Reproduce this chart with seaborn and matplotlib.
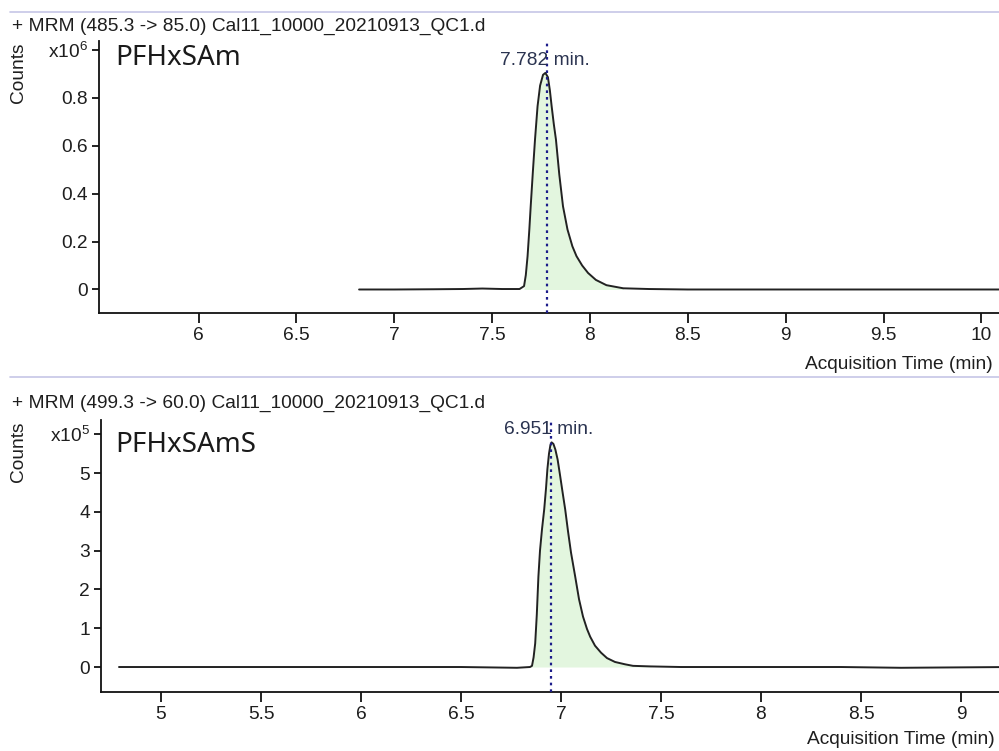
import numpy as np
import seaborn as sns
import matplotlib.pyplot as plt
from matplotlib.lines import Line2D

# ---- data ----
# top: PFHxSAm, counts in units of 1e6
top_time = [6.82, 7.00, 7.20, 7.35, 7.45, 7.55, 7.64, 7.663, 7.672, 7.681, 7.69,
            7.697, 7.708, 7.719, 7.732, 7.745, 7.76, 7.772, 7.785, 7.795, 7.804,
            7.815, 7.826, 7.843, 7.862, 7.885, 7.91, 7.931, 7.96, 7.99, 8.03,
            8.084, 8.17, 8.30, 8.50, 9.00, 10.10]
top_counts = [0.0, 0.0, 0.001, 0.002, 0.004, 0.002, 0.002, 0.014, 0.06, 0.139, 0.25,
              0.347, 0.49, 0.625, 0.764, 0.85, 0.895, 0.903, 0.885, 0.83, 0.764,
              0.69, 0.625, 0.48, 0.347, 0.25, 0.18, 0.139, 0.10, 0.069, 0.04,
              0.018, 0.005, 0.002, 0.0, 0.0, 0.0]
top_rt = 7.782
top_range = (7.663, 8.17)

# bottom: PFHxSAmS, counts in units of 1e5
bot_time = [4.79, 5.50, 6.00, 6.50, 6.78, 6.845, 6.855, 6.863, 6.871, 6.879, 6.887,
            6.895, 6.905, 6.916, 6.925, 6.932, 6.94, 6.947, 6.953, 6.962, 6.972,
            6.983, 6.995, 7.008, 7.021, 7.035, 7.05, 7.071, 7.09, 7.11, 7.13,
            7.146, 7.17, 7.20, 7.23, 7.27, 7.32, 7.36, 7.45, 7.60, 8.00, 8.40,
            8.70, 9.25]
bot_counts = [0.0, 0.0, 0.0, 0.0, -0.02, 0.0, 0.03, 0.25, 0.61, 1.35, 2.33,
              3.0, 3.55, 4.06, 4.6, 5.1, 5.5, 5.72, 5.79, 5.75, 5.6,
              5.35, 4.95, 4.5, 4.06, 3.5, 2.95, 2.33, 1.75, 1.3, 0.98,
              0.78, 0.55, 0.37, 0.23, 0.13, 0.07, 0.03, 0.015, 0.0, 0.0, 0.0,
              -0.02, 0.0]
bot_rt = 6.951
bot_range = (6.845, 7.45)

titles = ['+ MRM (485.3 -> 85.0) Cal11_10000_20210913_QC1.d',
          '+ MRM (499.3 -> 60.0) Cal11_10000_20210913_QC1.d']
compounds = ['PFHxSAm', 'PFHxSAmS']
top_yticks = [0, 0.2, 0.4, 0.6, 0.8, 1.0]
top_ylabels = ['0', '0.2', '0.4', '0.6', '0.8', 'x10$^{6}$']
bot_yticks = [0, 1, 2, 3, 4, 5, 6]
bot_ylabels = ['0', '1', '2', '3', '4', '5', 'x10$^{5}$']
top_xticks = [6, 6.5, 7, 7.5, 8, 8.5, 9, 9.5, 10]
bot_xticks = [5, 5.5, 6, 6.5, 7, 7.5, 8, 8.5, 9]

sns.set_style('white')
plt.rcParams['font.family'] = ['Liberation Sans', 'DejaVu Sans']
plt.rcParams['mathtext.default'] = 'regular'

TXT = '#1e1e1e'
LINE = '#222222'
FILL = '#e3f6df'
RT_COL = '#1c1c8a'
SEP = '#c6c6e6'
FS = 13.8

fig = plt.figure(figsize=(9.99, 7.51), dpi=100)
W, H = 999, 751


def px_axes(left, top, right, bottom):
    return fig.add_axes([left / W, 1 - bottom / H, (right - left) / W, (bottom - top) / H])


def draw_panel(ax, t, c, rt, rng, xlim, ylim, xticks, yticks, ylabels):
    t = np.array(t)
    c = np.array(c)
    m = (t >= rng[0]) & (t <= rng[1])
    ax.fill_between(t[m], 0, c[m], color=FILL, lw=0, zorder=1)
    sns.lineplot(x=t, y=c, ax=ax, color=LINE, lw=1.4, estimator=None, sort=False, zorder=3)
    ax.axvline(rt, color=RT_COL, ls=(0, (1.2, 1.8)), lw=1.6, zorder=4)
    peak = c.max()
    ax.annotate(f'{rt:.3f} min.', xy=(rt, peak), xytext=(-2, 9), textcoords='offset points',
                ha='center', va='center', fontsize=FS, color='#2a3350', zorder=5)
    ax.set_xlim(*xlim)
    ax.set_ylim(*ylim)
    ax.set_xticks(xticks)
    ax.set_xticklabels([f'{v:g}' for v in xticks])
    ax.set_yticks(yticks)
    ax.set_yticklabels(ylabels)
    ax.set_xlabel('')
    ax.set_ylabel('')
    ax.grid(False)
    for s in ['top', 'right']:
        ax.spines[s].set_visible(False)
    for s in ['left', 'bottom']:
        ax.spines[s].set_color('#111111')
        ax.spines[s].set_linewidth(1.3)
    ax.tick_params(axis='x', direction='out', length=7, width=1.3, color='#111111',
                   labelsize=FS, labelcolor=TXT, pad=3, bottom=True)
    ax.tick_params(axis='y', direction='out', length=5, width=1.3, color='#111111',
                   labelsize=FS, labelcolor=TXT, pad=3, left=True)
    ax.patch.set_alpha(0)


ax1 = px_axes(99, 41, 999, 313)
draw_panel(ax1, top_time, top_counts, top_rt, top_range, (5.491, 10.09), (-0.098, 1.036),
           top_xticks, top_yticks, top_ylabels)
ax2 = px_axes(101, 420, 999, 692)
draw_panel(ax2, bot_time, bot_counts, bot_rt, bot_range, (4.70, 9.19), (-0.644, 6.366),
           bot_xticks, bot_yticks, bot_ylabels)

# panel headers, separators and labels
for y_sep in (12, 377):
    fig.add_artist(Line2D([10 / W, 1], [1 - y_sep / H] * 2, color=SEP, lw=1.2))
fig.text(12 / W, 1 - 26 / H, titles[0], ha='left', va='center', fontsize=FS, color=TXT)
fig.text(12 / W, 1 - 403 / H, titles[1], ha='left', va='center', fontsize=FS, color=TXT)
fig.text(19 / W, 1 - 73 / H, 'Counts', rotation=90, ha='center', va='center', fontsize=FS, color=TXT)
fig.text(19 / W, 1 - 452 / H, 'Counts', rotation=90, ha='center', va='center', fontsize=FS, color=TXT)
fig.text(115 / W, 1 - 58 / H, compounds[0], ha='left', va='center', fontsize=20,
         color='#1a1a1a', family=['Noto Sans', 'DejaVu Sans'])
fig.text(115 / W, 1 - 445 / H, compounds[1], ha='left', va='center', fontsize=20,
         color='#1a1a1a', family=['Noto Sans', 'DejaVu Sans'])
fig.text(993 / W, 1 - 364 / H, 'Acquisition Time (min)', ha='right', va='center', fontsize=FS, color=TXT)
fig.text(995 / W, 1 - 740 / H, 'Acquisition Time (min)', ha='right', va='center', fontsize=FS, color=TXT)

fig.savefig('out.png', dpi=100)
